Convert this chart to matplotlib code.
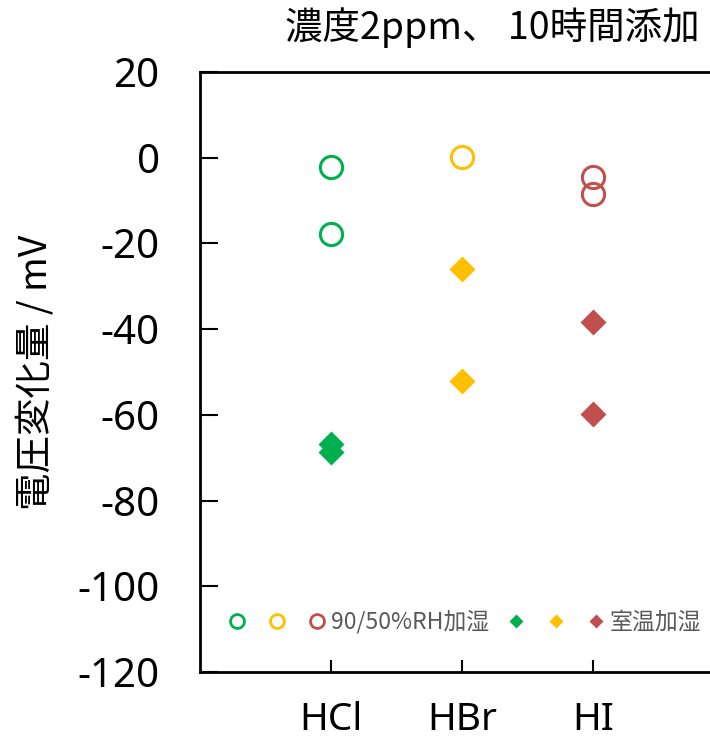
import matplotlib
matplotlib.use("Agg")
import matplotlib.pyplot as plt
from matplotlib.lines import Line2D

plt.rcParams["font.family"] = ["Noto Sans", "Noto Sans CJK JP", "DejaVu Sans"]
plt.rcParams["axes.unicode_minus"] = False

# Data
gases = ["HCl", "HBr", "HI"]
colors = ["#00B050", "#FFC000", "#C0504D"]
humid_90_50 = [[-2.2, -17.8], [0.1], [-4.4, -8.5]]
humid_room = [[-66.9, -68.7], [-26.0, -52.0], [-38.4, -59.8]]
yticks = [20, 0, -20, -40, -60, -80, -100, -120]
legend_labels = ["", "", "90/50%RH加湿", "", "", "室温加湿"]

fig = plt.figure(figsize=(7.1, 7.4), dpi=100)
ax = fig.add_axes([200 / 710, 68 / 740, 524 / 710, 600 / 740])

for i, (c, circ, dia) in enumerate(zip(colors, humid_90_50, humid_room)):
    pos = i + 1
    ax.plot([pos] * len(circ), circ, "o", ms=16, mfc="none", mec=c, mew=2.2)
    ax.plot([pos] * len(dia), dia, "D", ms=13, color=c, mec="none")

ax.set_xlim(0, 4)
ax.set_ylim(-120, 20)
ax.set_yticks(yticks)
ax.set_xticks([1, 2, 3])
ax.set_xticklabels(gases)
ax.tick_params(axis="y", direction="in", length=13, width=1.5, labelsize=29, pad=29)
ax.tick_params(axis="x", direction="in", length=9, width=1.5, labelsize=28, pad=21)
for s in ax.spines.values():
    s.set_linewidth(2)

ax.set_ylabel("電圧変化量 / mV", fontsize=27,
              family=["Noto Sans CJK JP", "DejaVu Sans"])
ax.yaxis.set_label_coords(-0.275, 0.5)

# legend: three open circles then label, three diamonds then label
handles = [Line2D([], [], ls="none", marker="o", ms=10, mfc="none", mec=c, mew=2) for c in colors]
handles += [Line2D([], [], ls="none", marker="D", ms=7, color=c, mec="none") for c in colors]
leg = ax.legend(handles, legend_labels, ncol=6, loc="center", bbox_to_anchor=(0.505, 0.083),
                frameon=False, handlelength=0.8, handletextpad=0.2, columnspacing=0.75,
                prop={"family": ["Noto Sans CJK JP", "DejaVu Sans"], "size": 16.5})
for t in leg.get_texts():
    t.set_color("#595959")

fig.text(492 / 710, 1 - 28 / 740, "濃度2ppm、 10時間添加", ha="center", va="center",
         fontsize=27, family=["Noto Sans CJK JP", "DejaVu Sans"])

fig.savefig("out.png", dpi=100)
